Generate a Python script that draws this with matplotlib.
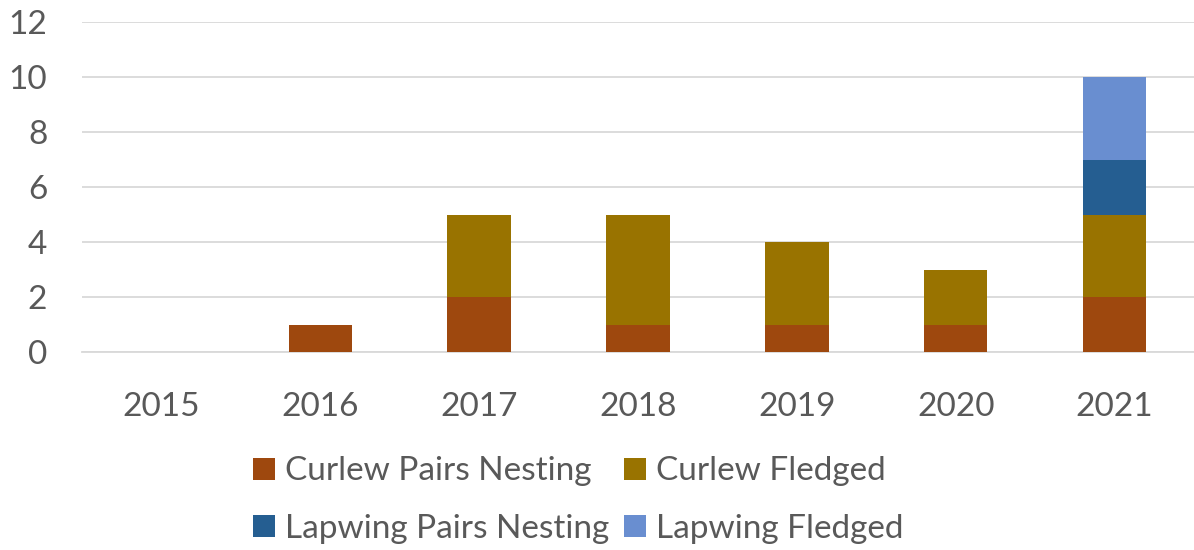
import matplotlib
matplotlib.use("Agg")
import matplotlib.pyplot as plt
from matplotlib.patches import Patch

years = ["2015", "2016", "2017", "2018", "2019", "2020", "2021"]
curlew_nesting = [0, 1, 2, 1, 1, 1, 2]
curlew_fledged = [0, 0, 3, 4, 3, 2, 3]
lapwing_nesting = [0, 0, 0, 0, 0, 0, 2]
lapwing_fledged = [0, 0, 0, 0, 0, 0, 3]

series = [
    ("Curlew Pairs Nesting", curlew_nesting, "#9E480E"),
    ("Curlew Fledged", curlew_fledged, "#997300"),
    ("Lapwing Pairs Nesting", lapwing_nesting, "#255E91"),
    ("Lapwing Fledged", lapwing_fledged, "#698ED0"),
]

TEXT = "#595959"
plt.rcParams["font.family"] = ["Lato", "DejaVu Sans"]

fig = plt.figure(figsize=(11.94, 5.5), dpi=100)
ax = fig.add_axes([82 / 1194, 1 - 352 / 550, 1 - 82 / 1194, 330 / 550])

x = list(range(len(years)))
bottom = [0] * len(years)
handles = []
for label, vals, color in series:
    ax.bar(x, vals, width=0.4, bottom=bottom, color=color, zorder=3)
    bottom = [b + v for b, v in zip(bottom, vals)]
    handles.append(Patch(facecolor=color, label=label))

ax.set_xlim(-0.5, len(years) - 0.5)
ax.set_ylim(0, 12)
ax.set_yticks(range(0, 13, 2))
ax.set_xticks(x)
ax.set_xticklabels(years)
ax.yaxis.grid(True, color="#D9D9D9", linewidth=1.3, zorder=0)
for side in ["top", "right", "left"]:
    ax.spines[side].set_visible(False)
ax.spines["bottom"].set_color("#D9D9D9")
ax.spines["bottom"].set_linewidth(1.3)
ax.tick_params(axis="both", length=0, labelsize=24, labelcolor=TEXT)
ax.tick_params(axis="x", pad=29)
ax.tick_params(axis="y", pad=25)

# legend is filled row by row in the reference
order = [0, 2, 1, 3]
fig.legend(handles=[handles[i] for i in order], ncol=2, loc="center",
           bbox_to_anchor=(0.4845, 1 - 500 / 550), frameon=False, fontsize=24,
           labelcolor=TEXT, handlelength=0.65, handleheight=0.65,
           handletextpad=0.3, columnspacing=0.45, labelspacing=0.82)

fig.savefig("out.png", dpi=100)
